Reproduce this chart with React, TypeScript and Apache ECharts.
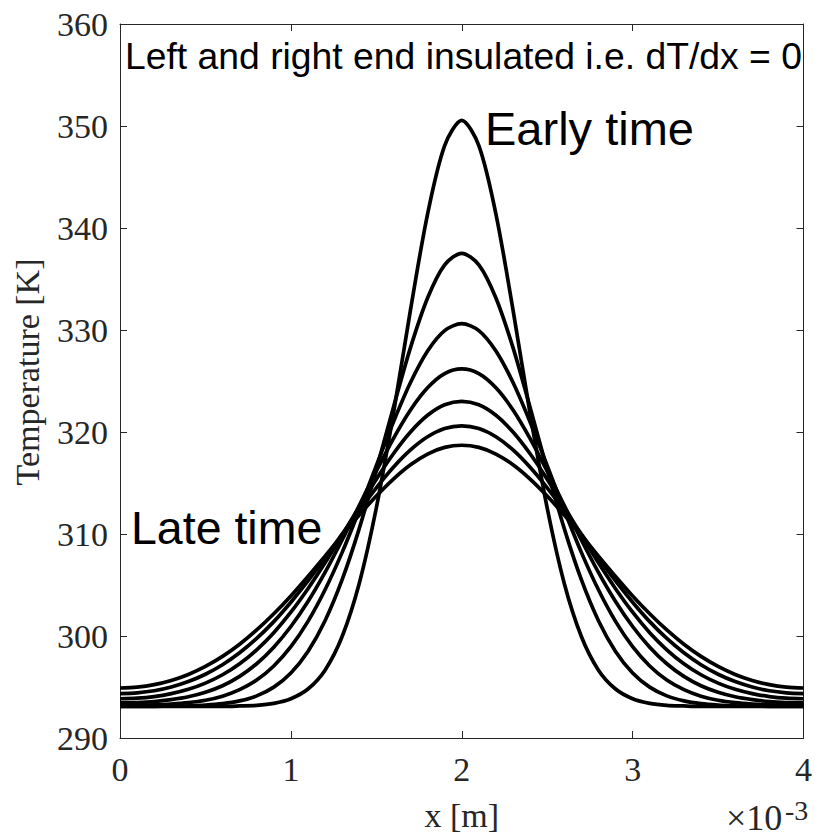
import React, { useEffect, useRef } from "react";
import * as echarts from "echarts";

// x positions in units of 1e-3 m
const xValues: number[] = [
  0, 0.1, 0.2, 0.3, 0.4, 0.5, 0.6, 0.7, 0.8, 0.9, 1.0, 1.1, 1.2, 1.3, 1.4, 1.5, 1.6, 1.7, 1.8, 1.9, 2.0,
  2.1, 2.2, 2.3, 2.4, 2.5, 2.6, 2.7, 2.8, 2.9, 3.0, 3.1, 3.2, 3.3, 3.4, 3.5, 3.6, 3.7, 3.8, 3.9, 4.0,
];

// Temperature profiles [K], early time -> late time
const tempT1: number[] = [
  293.1, 293.1, 293.1, 293.1, 293.1, 293.1, 293.1, 293.14, 293.2, 293.4, 293.85, 294.8, 296.65, 299.95, 305.15, 312.55, 321.8, 331.97, 341.37, 348.08,
  350.55,
  348.08, 341.37, 331.97, 321.8, 312.55, 305.15, 299.95, 296.65, 294.8, 293.85, 293.4, 293.2, 293.14, 293.1, 293.1, 293.1, 293.1, 293.1, 293.1, 293.1,
];
const tempT2: number[] = [
  293.1, 293.1, 293.11, 293.12, 293.16, 293.23, 293.37, 293.64, 294.13, 294.99, 296.38, 298.49, 301.5, 305.52, 310.53, 316.3, 322.41, 328.27, 333.14, 336.39,
  337.52,
  336.39, 333.14, 328.27, 322.41, 316.3, 310.53, 305.52, 301.5, 298.49, 296.38, 294.99, 294.13, 293.64, 293.37, 293.23, 293.16, 293.12, 293.11, 293.1, 293.1,
];
const tempT3: number[] = [
  293.2, 293.21, 293.24, 293.32, 293.46, 293.7, 294.1, 294.74, 295.68, 297.06, 298.95, 301.43, 304.53, 308.2, 312.33, 316.7, 320.98, 324.85, 327.94, 329.94,
  330.62,
  329.94, 327.94, 324.85, 320.98, 316.7, 312.33, 308.2, 304.53, 301.43, 298.95, 297.06, 295.68, 294.74, 294.1, 293.7, 293.46, 293.32, 293.24, 293.21, 293.2,
];
const tempT4: number[] = [
  293.45, 293.48, 293.57, 293.76, 294.04, 294.48, 295.12, 296.04, 297.28, 298.9, 300.93, 303.38, 306.24, 309.41, 312.78, 316.16, 319.36, 322.16, 324.33, 325.72,
  326.18,
  325.72, 324.33, 322.16, 319.36, 316.16, 312.78, 309.41, 306.24, 303.38, 300.93, 298.9, 297.28, 296.04, 295.12, 294.48, 294.04, 293.76, 293.57, 293.48, 293.45,
];
const tempT5: number[] = [
  293.85, 293.9, 294.06, 294.35, 294.77, 295.38, 296.2, 297.28, 298.65, 300.33, 302.33, 304.63, 307.17, 309.89, 312.67, 315.38, 317.87, 320.0, 321.64, 322.67,
  323.01,
  322.67, 321.64, 320.0, 317.87, 315.38, 312.67, 309.89, 307.17, 304.63, 302.33, 300.33, 298.65, 297.28, 296.2, 295.38, 294.77, 294.35, 294.06, 293.9, 293.85,
];
const tempT6: number[] = [
  294.35, 294.43, 294.63, 295.0, 295.53, 296.25, 297.18, 298.35, 299.76, 301.41, 303.31, 305.4, 307.65, 309.99, 312.31, 314.53, 316.54, 318.24, 319.53, 320.34,
  320.6,
  320.34, 319.53, 318.24, 316.54, 314.53, 312.31, 309.99, 307.65, 305.4, 303.31, 301.41, 299.76, 298.35, 297.18, 296.25, 295.53, 295.0, 294.63, 294.43, 294.35,
];
const tempT7: number[] = [
  294.9, 294.99, 295.23, 295.64, 296.23, 297.02, 298.0, 299.19, 300.59, 302.18, 303.93, 305.84, 307.83, 309.86, 311.85, 313.72, 315.39, 316.79, 317.84, 318.49,
  318.7,
  318.49, 317.84, 316.79, 315.39, 313.72, 311.85, 309.86, 307.83, 305.84, 303.93, 302.18, 300.59, 299.19, 298.0, 297.02, 296.23, 295.64, 295.23, 294.99, 294.9,
];

const profiles: number[][] = [tempT1, tempT2, tempT3, tempT4, tempT5, tempT6, tempT7];

const xTickValues: number[] = [0, 1, 2, 3, 4];
const yTickValues: number[] = [290, 300, 310, 320, 330, 340, 350, 360];

const AXIS_COLOR = "#262626";
const SERIF = "'Liberation Serif', 'Times New Roman', serif";
const SANS = "'Liberation Sans', Arial, sans-serif";

export default function App() {
  const ref = useRef<HTMLDivElement>(null);

  useEffect(() => {
    if (!ref.current) return;
    const chart = echarts.init(ref.current, undefined, { renderer: "svg" });

    const axisCommon = {
      type: "value" as const,
      axisLine: { show: true, onZero: false, lineStyle: { color: AXIS_COLOR, width: 1 } },
      axisTick: { show: true, inside: true, length: 7, lineStyle: { color: AXIS_COLOR, width: 1 } },
      splitLine: { show: false },
    };

    const labelStyle = {
      fontFamily: SERIF,
      fontSize: 34,
      color: AXIS_COLOR,
    };

    const option: echarts.EChartsOption = {
      animation: false,
      backgroundColor: "#ffffff",
      grid: { left: 120, top: 24, width: 688, height: 714, containLabel: false },
      xAxis: [
        {
          ...axisCommon,
          position: "bottom",
          min: xTickValues[0],
          max: xTickValues[xTickValues.length - 1],
          interval: 1,
          axisLabel: { ...labelStyle, margin: 14 },
          name: "x [m]",
          nameLocation: "middle",
          nameGap: 60,
          nameTextStyle: { ...labelStyle },
        },
        {
          ...axisCommon,
          position: "top",
          min: xTickValues[0],
          max: xTickValues[xTickValues.length - 1],
          interval: 1,
          axisLabel: { show: false },
        },
      ],
      yAxis: [
        {
          ...axisCommon,
          position: "left",
          min: yTickValues[0],
          max: yTickValues[yTickValues.length - 1],
          interval: 10,
          axisLabel: { ...labelStyle, margin: 12 },
          name: "Temperature [K]",
          nameLocation: "middle",
          nameGap: 76,
          nameTextStyle: { ...labelStyle, padding: [0, 0, 0, 18] },
        },
        {
          ...axisCommon,
          position: "right",
          min: yTickValues[0],
          max: yTickValues[yTickValues.length - 1],
          interval: 10,
          axisLabel: { show: false },
        },
      ],
      series: profiles.map((p, k) => ({
        type: "line" as const,
        name: `t${k + 1}`,
        xAxisIndex: 0,
        yAxisIndex: 0,
        data: xValues.map((x, i) => [x, p[i]]),
        showSymbol: false,
        smooth: 0.3,
        lineStyle: { color: "#000000", width: 3.7 },
        z: 3,
      })),
      graphic: [
        {
          type: "text",
          x: 125,
          y: 56,
          style: {
            text: "Left and right end insulated i.e. dT/dx = 0",
            font: `37.3px ${SANS}`,
            fill: "#000000",
            textAlign: "left",
            textVerticalAlign: "middle",
          },
          z: 10,
        },
        {
          type: "text",
          x: 485,
          y: 128,
          style: {
            text: "Early time",
            font: `47px ${SANS}`,
            fill: "#000000",
            textAlign: "left",
            textVerticalAlign: "middle",
          },
          z: 10,
        },
        {
          type: "text",
          x: 131,
          y: 528,
          style: {
            text: "Late time",
            font: `46.5px ${SANS}`,
            fill: "#000000",
            textAlign: "left",
            textVerticalAlign: "middle",
          },
          z: 10,
        },
        {
          type: "text",
          x: 726,
          y: 818,
          style: {
            text: "×10",
            font: `36px ${SERIF}`,
            fill: AXIS_COLOR,
            textAlign: "left",
            textVerticalAlign: "middle",
          },
          z: 10,
        },
        {
          type: "text",
          x: 785,
          y: 810,
          style: {
            text: "-3",
            font: `28px ${SERIF}`,
            fill: AXIS_COLOR,
            textAlign: "left",
            textVerticalAlign: "middle",
          },
          z: 10,
        },
      ],
    };

    chart.setOption(option);
    return () => {
      chart.dispose();
    };
  }, []);

  return (
    <div
      ref={ref}
      style={{ position: "fixed", left: 0, top: 0, width: 815, height: 837, background: "#ffffff" }}
    />
  );
}
